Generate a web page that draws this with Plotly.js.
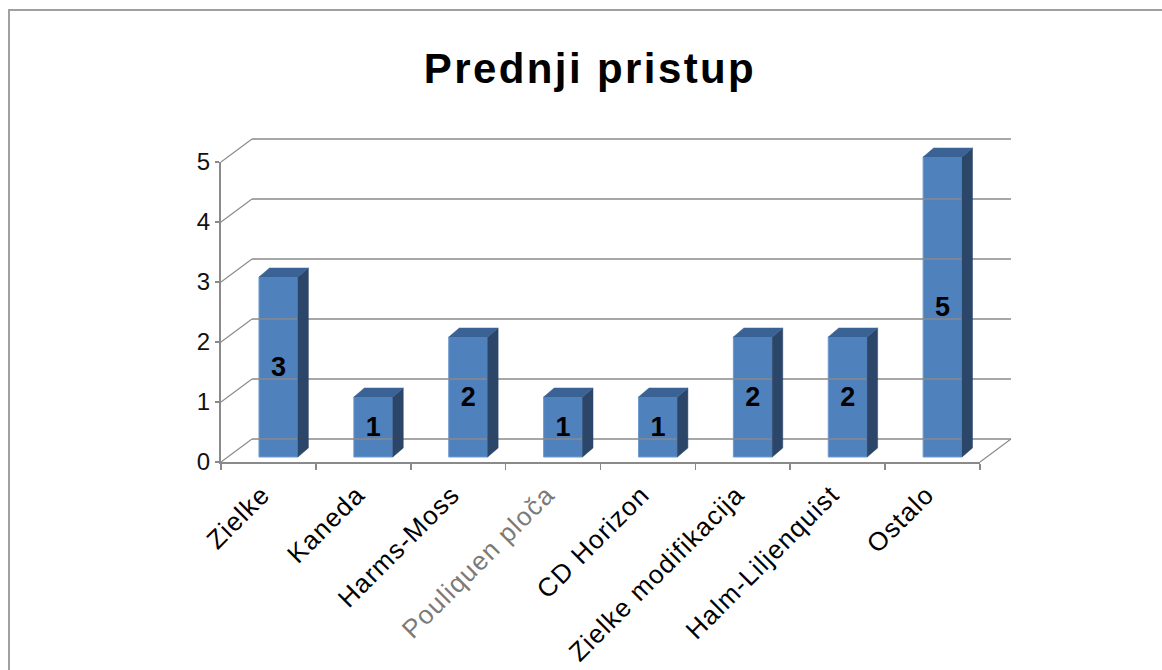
<!DOCTYPE html>
<html>
<head>
<meta charset="utf-8">
<script src="https://cdn.plot.ly/plotly-3.0.1.min.js"></script>
<style>
  html, body { margin: 0; padding: 0; background: #fff; }
  #chart { width: 1162px; height: 670px; }
  .gtitle { letter-spacing: 2.4px; }
  .xtick text { letter-spacing: 1.2px; }
</style>
</head>
<body>
<div id="chart"></div>
<script>
// ---- data ----
const chartTitle = "Prednji pristup";
const categories = ["Zielke", "Kaneda", "Harms-Moss", "Pouliquen ploča", "CD Horizon",
                    "Zielke modifikacija", "Halm-Liljenquist", "Ostalo"];
const values = [3, 1, 2, 1, 1, 2, 2, 5];
const yTicks = [0, 1, 2, 3, 4, 5];

// ---- layout geometry (pixels) ----
const W = 1162, H = 670;
const X0 = 221, CAT = 94.875;   // front x position of left boundary, px per category
const Y0 = 462, UNIT = 60;      // front y position of 0, px per unit
const pxX = v => X0 + (v + 0.5) * CAT;
const pxY = v => Y0 - v * UNIT;
const domX = (a, b) => [pxX(a) / W, pxX(b) / W];
const domY = (a, b) => [(H - pxY(a)) / H, (H - pxY(b)) / H];

const n = categories.length;
const yMax = yTicks[yTicks.length - 1];
const wallDx = 31 / CAT, wallDy = 23 / UNIT;   // back wall offset
const barDx = 10 / CAT, barDy = 5 / UNIT;      // bar plane offset
const depX = 10.5 / CAT, depY = 9 / UNIT;      // bar depth
const barW = 0.41;

const gridColor = "#8a8a8a";
const faceColor = "#4F81BD", sideColor = "#2B4668", topColor = "#3B6294";

const traces = [];
// invisible anchor trace for the front axes
traces.push({x: [0], y: [0], xaxis: "x", yaxis: "y", mode: "markers",
  marker: {opacity: 0}, hoverinfo: "skip", showlegend: false});

// back wall + side wall gridlines
const gx = [], gy = [];
yTicks.forEach(k => {
  gx.push(-0.5 + wallDx, n - 0.5 + wallDx, null);
  gy.push(k + wallDy, k + wallDy, null);
});
traces.push({x: gx, y: gy, xaxis: "x2", yaxis: "y2", mode: "lines",
  line: {color: gridColor, width: 1.6}, hoverinfo: "skip", showlegend: false});
const sx = [], sy = [];
yTicks.forEach(k => {
  sx.push(-0.5, -0.5 + wallDx, null);
  sy.push(k, k + wallDy, null);
});
sx.push(n - 0.5, n - 0.5 + wallDx, null);
sy.push(0, wallDy, null);
traces.push({x: sx, y: sy, xaxis: "x2", yaxis: "y2", mode: "lines",
  line: {color: gridColor, width: 1.1}, hoverinfo: "skip", showlegend: false});

// bar front faces
traces.push({
  type: "bar", x: categories.map((c, i) => i + barDx), y: values,
  base: barDy, width: barW, xaxis: "x2", yaxis: "y2",
  marker: {color: faceColor, line: {color: "#6F9AD0", width: 1}},
  texttemplate: "%{y}", textposition: "inside", insidetextanchor: "middle",
  textangle: 0, constraintext: "none",
  textfont: {family: "Liberation Sans, Arial, sans-serif", size: 27, color: "#000", weight: "bold"},
  hoverinfo: "skip", showlegend: false
});

// bar side and top faces
values.forEach((v, i) => {
  const xl = i + barDx - barW / 2, xr = i + barDx + barW / 2;
  const b = barDy, t = barDy + v;
  traces.push({x: [xr, xr, xr + depX, xr + depX, xr], y: [b, t, t + depY, b + depY, b],
    xaxis: "x2", yaxis: "y2", mode: "lines", fill: "toself", fillcolor: sideColor,
    line: {color: sideColor, width: 0.5}, hoverinfo: "skip", showlegend: false});
  traces.push({x: [xl, xr, xr + depX, xl + depX, xl], y: [t, t, t + depY, t + depY, t],
    xaxis: "x2", yaxis: "y2", mode: "lines", fill: "toself", fillcolor: topColor,
    line: {color: topColor, width: 0.5}, hoverinfo: "skip", showlegend: false});
});

const tickText = categories.map((c, i) =>
  i === 3 ? '<span style="color:#7a7a7a">' + c + '</span>' : c);

const x2r = [-0.6, n - 0.5 + wallDx + 0.1];
const y2r = [-0.15, yMax + wallDy + 0.15];

const layout = {
  width: W, height: H,
  margin: {l: 0, r: 0, t: 0, b: 0},
  paper_bgcolor: "#ffffff", plot_bgcolor: "rgba(0,0,0,0)",
  font: {family: "Liberation Sans, Arial, sans-serif", color: "#000"},
  title: {
    text: chartTitle, x: 590 / W, xref: "paper", xanchor: "center",
    y: 1 - 68 / H, yref: "paper", yanchor: "middle",
    font: {family: "Liberation Sans, Arial, sans-serif", size: 42, color: "#000", weight: "bold"}
  },
  xaxis: {
    domain: domX(-0.5, n - 0.5), range: [-0.5, n - 0.5], anchor: "y",
    tickmode: "array", tickvals: categories.map((c, i) => i), ticktext: tickText,
    tickangle: -45, ticks: "", showgrid: false, zeroline: false,
    showline: true, linecolor: gridColor, linewidth: 2,
    tickfont: {size: 26, color: "#000"},
    ticklabelstandoff: 5, ticklabelshift: -6,
    minor: {tickmode: "array", tickvals: categories.map((c, i) => i - 0.5).concat([n - 0.5]),
            ticks: "outside", ticklen: 6, tickcolor: gridColor, tickwidth: 1.6, showgrid: false},
    fixedrange: true
  },
  yaxis: {
    domain: domY(0, yMax), range: [0, yMax], anchor: "x",
    tickmode: "array", tickvals: yTicks, ticktext: yTicks.map(String),
    ticks: "outside", ticklen: 4, tickcolor: gridColor, tickwidth: 1.6,
    showgrid: false, zeroline: false, showline: true, linecolor: gridColor, linewidth: 2,
    tickfont: {size: 24, color: "#111"}, fixedrange: true
  },
  xaxis2: {
    domain: domX(x2r[0], x2r[1]), range: x2r, anchor: "y2",
    visible: false, showgrid: false, zeroline: false, fixedrange: true
  },
  yaxis2: {
    domain: domY(y2r[0], y2r[1]), range: y2r, anchor: "x2",
    visible: false, showgrid: false, zeroline: false, fixedrange: true
  },
  shapes: [{
    type: "rect", xref: "paper", yref: "paper",
    x0: 9 / W, x1: 1.05, y0: -0.05, y1: 1 - 10 / H,
    line: {color: "#a0a0a0", width: 2}, fillcolor: "rgba(0,0,0,0)", layer: "below"
  }],
  showlegend: false
};

Plotly.newPlot("chart", traces, layout, {staticPlot: true, displayModeBar: false});
</script>
</body>
</html>
